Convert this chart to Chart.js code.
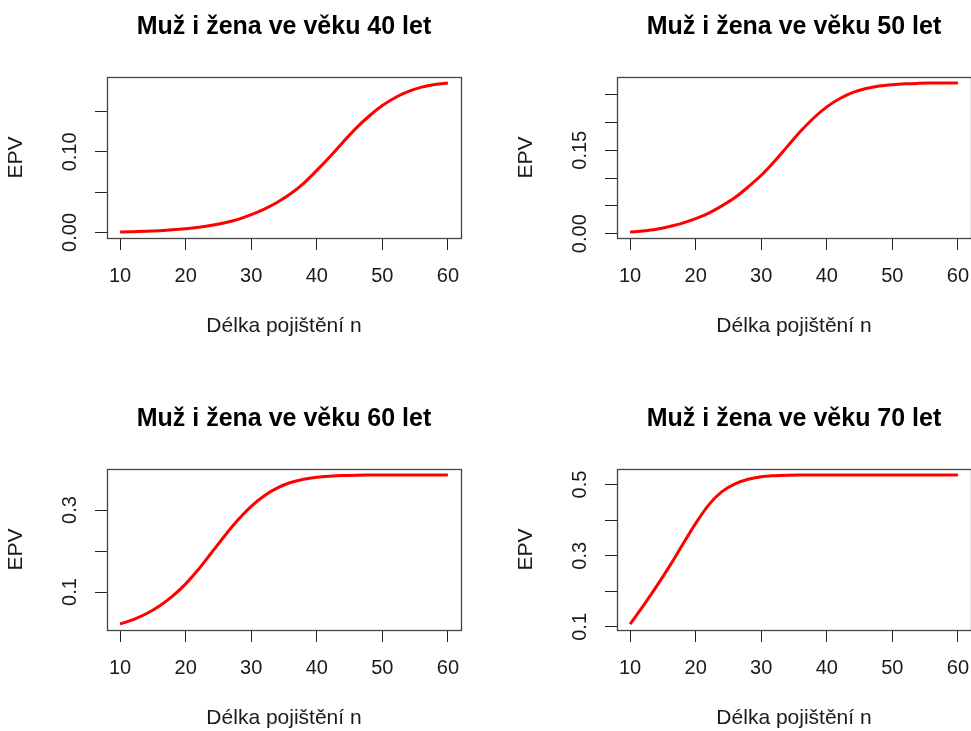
<!DOCTYPE html>
<html>
<head>
<meta charset="utf-8">
<script src="https://cdn.jsdelivr.net/npm/chart.js@4.4.1/dist/chart.umd.min.js"></script>
<style>
  body { margin: 0; background: #fff; }
  #wrap { position: relative; width: 971px; height: 731px; overflow: hidden; background: #fff; }
  #wrap canvas { position: absolute; }
</style>
</head>
<body>
<div id="wrap">
  <canvas id="c40" width="510" height="392" style="left:0;top:0"></canvas>
  <canvas id="c50" width="510" height="392" style="left:510px;top:0"></canvas>
  <canvas id="c60" width="510" height="392" style="left:0;top:392px"></canvas>
  <canvas id="c70" width="510" height="392" style="left:510px;top:392px"></canvas>
</div>
<script>
// délka pojištění n
const delka = [10, 12, 14, 16, 18, 20, 22, 24, 26, 28, 30, 32, 34, 36, 38, 40, 42, 44, 46, 48, 50, 52, 54, 56, 58, 60];

// EPV
const epv40 = [0.0005, 0.0010, 0.0015, 0.0022, 0.0032, 0.0046, 0.0064, 0.0088, 0.0120, 0.0162, 0.0220, 0.0290, 0.0375,
               0.0480, 0.0610, 0.0770, 0.0940, 0.1120, 0.1295, 0.1445, 0.1575, 0.1675, 0.1750, 0.1803, 0.1837, 0.1855];
const epv50 = [0.003, 0.005, 0.008, 0.013, 0.019, 0.027, 0.037, 0.050, 0.065, 0.084, 0.105, 0.130, 0.157,
               0.184, 0.208, 0.228, 0.243, 0.254, 0.261, 0.2655, 0.268, 0.2695, 0.2703, 0.2708, 0.271, 0.271];
const epv60 = [0.022, 0.033, 0.047, 0.066, 0.090, 0.120, 0.156, 0.197, 0.238, 0.276, 0.309, 0.335, 0.354,
               0.367, 0.375, 0.380, 0.3825, 0.384, 0.3848, 0.3852, 0.3854, 0.3855, 0.3855, 0.3855, 0.3855, 0.3855];
const epv70 = [0.108, 0.159, 0.213, 0.270, 0.331, 0.391, 0.443, 0.480, 0.502, 0.515, 0.522, 0.525, 0.5265,
               0.527, 0.527, 0.527, 0.527, 0.527, 0.527, 0.527, 0.527, 0.527, 0.527, 0.527, 0.527, 0.527];

const xTicks = [10, 20, 30, 40, 50, 60];
const yTicks40 = [0, 0.05, 0.10, 0.15];
const yLabels40 = ['0.00', '', '0.10', ''];
const yTicks50 = [0, 0.05, 0.10, 0.15, 0.20, 0.25];
const yLabels50 = ['0.00', '', '', '0.15', '', ''];
const yTicks60 = [0.1, 0.2, 0.3];
const yLabels60 = ['0.1', '', '0.3'];
const yTicks70 = [0.1, 0.2, 0.3, 0.4, 0.5];
const yLabels70 = ['0.1', '', '0.3', '', '0.5'];

const FONT = "'Liberation Sans', Arial, Helvetica, sans-serif";

// rámeček kolem plochy grafu jako v R
const boxPlugin = {
  id: 'rbox',
  afterDraw(chart) {
    const a = chart.chartArea, ctx = chart.ctx;
    ctx.save();
    ctx.strokeStyle = '#444';
    ctx.lineWidth = 1.3;
    ctx.strokeRect(Math.round(a.left) + 0.5, Math.round(a.top) + 0.5,
                   Math.round(a.right - a.left), Math.round(a.bottom - a.top));
    ctx.restore();
  }
};

// rozsah os jako v R (+4 %)
function rozsah(vals) {
  const lo = Math.min(...vals), hi = Math.max(...vals);
  const d = (hi - lo) * 0.04;
  return [lo - d, hi + d];
}

function graf(id, title, vals, yTicks, yLabels) {
  const canvas = document.getElementById(id);
  const mctx = canvas.getContext('2d');
  mctx.font = '20px ' + FONT;
  const widest = Math.max(...yLabels.map(s => mctx.measureText(s).width));
  const [xmin, xmax] = rozsah(delka);
  const [ymin, ymax] = rozsah(vals);
  const gridOpts = { display: true, drawOnChartArea: false, drawTicks: true, tickLength: 12,
                     color: '#222', tickColor: '#222', lineWidth: 1 };

  return new Chart(canvas, {
    type: 'line',
    data: {
      datasets: [{
        data: delka.map((n, i) => ({ x: n, y: vals[i] })),
        borderColor: '#ff0000',
        borderWidth: 3,
        pointRadius: 0,
        cubicInterpolationMode: 'monotone',
        fill: false
      }]
    },
    options: {
      responsive: false,
      animation: false,
      layout: { padding: { left: 0, right: 49, top: 0, bottom: 0 } },
      plugins: {
        legend: { display: false },
        tooltip: { enabled: false },
        title: {
          display: true, text: title, fullSize: false, color: '#000',
          font: { family: FONT, size: 25, weight: 'bold', lineHeight: 1.2 },
          padding: { top: 12, bottom: 35 }
        }
      },
      scales: {
        x: {
          type: 'linear', min: xmin, max: xmax,
          afterBuildTicks: s => { s.ticks = xTicks.map(v => ({ value: v })); },
          afterFit: s => { s.height = 154; },
          grid: gridOpts,
          border: { display: false },
          ticks: { autoSkip: false, minRotation: 0, maxRotation: 0, padding: 14, color: '#1a1a1a',
                   font: { family: FONT, size: 20 }, callback: v => String(v) },
          title: { display: true, text: 'Délka pojištění n', color: '#1a1a1a',
                   font: { family: FONT, size: 21 }, padding: { top: 0, bottom: 53 } }
        },
        y: {
          type: 'linear', min: ymin, max: ymax,
          afterBuildTicks: s => { s.ticks = yTicks.map(v => ({ value: v })); },
          afterFit: s => { s.width = 107; },
          grid: gridOpts,
          border: { display: false },
          ticks: { autoSkip: false, minRotation: 90, maxRotation: 90, crossAlign: 'center',
                   padding: 25 - widest / 2, color: '#1a1a1a',
                   font: { family: FONT, size: 20 }, callback: (v, i) => yLabels[i] },
          title: { display: true, text: 'EPV', color: '#1a1a1a',
                   font: { family: FONT, size: 21 }, padding: { top: 4, bottom: 0 } }
        }
      }
    },
    plugins: [boxPlugin]
  });
}

graf('c40', 'Muž i žena ve věku 40 let', epv40, yTicks40, yLabels40);
graf('c50', 'Muž i žena ve věku 50 let', epv50, yTicks50, yLabels50);
graf('c60', 'Muž i žena ve věku 60 let', epv60, yTicks60, yLabels60);
graf('c70', 'Muž i žena ve věku 70 let', epv70, yTicks70, yLabels70);
</script>
</body>
</html>
